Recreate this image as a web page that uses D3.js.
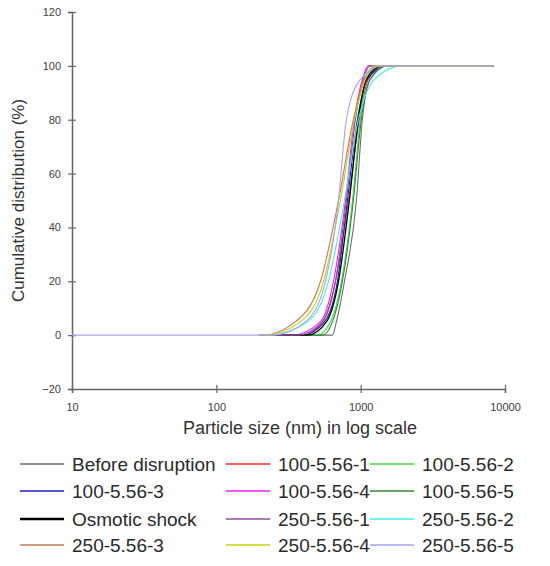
<!DOCTYPE html>
<html>
<head>
<meta charset="utf-8">
<script src="https://cdn.jsdelivr.net/npm/d3@7"></script>
<style>
  body { margin: 0; background: #fff; }
  text { font-family: Arial, "Liberation Sans", sans-serif; }
</style>
</head>
<body>
<div id="d3chart"></div>
<script>
// DATA ===========================================================================================
// particle size (nm), cumulative %
const beforeDisruption = [[200,0],[638,0],[679,5],[772,20],[934,50],[1027,80],[1166,95],[1527,100],[8300,100]]
const s100_1 = [[200,0],[396,0],[544,5],[669,20],[823,50],[979,80],[1130,95],[1411,100],[8300,100]]
const s100_2 = [[200,0],[502,0],[618,5],[736,20],[877,50],[994,80],[1094,95],[1303,100],[8300,100]]
const s100_3 = [[200,0],[396,0],[562,5],[690,20],[809,50],[949,80],[1112,95],[1527,100],[8300,100]]
const s100_4 = [[200,0],[338,0],[527,5],[648,20],[784,50],[904,80],[1027,95],[1130,100],[8300,100]]
const s100_5 = [[200,0],[544,0],[638,5],[747,20],[890,50],[1010,80],[1166,95],[1527,100],[8300,100]]
const osmoticShock = [[200,0],[429,0],[580,5],[702,20],[835,50],[964,80],[1094,95],[1411,100],[8300,100]]
const s250_1 = [[200,0],[366,0],[544,5],[669,20],[796,50],[919,80],[1043,95],[1166,100],[8300,100]]
const s250_2 = [[200,0],[227,0],[429,5],[599,20],[772,50],[964,80],[1242,95],[1939,100],[8300,100]]
const s250_3 = [[200,0],[210,0],[354,5],[527,20],[702,50],[890,80],[1060,95],[1303,100],[8300,100]]
const s250_4 = [[200,0],[216,0],[384,5],[553,20],[724,50],[904,80],[1077,95],[1242,100],[8300,100]]
const s250_5 = [[10,0],[246,0],[416,5],[570,20],[702,50],[796,80],[994,95],[1411,100],[8300,100]]

const seriesNames = ['Before disruption', '100-5.56-1', '100-5.56-2', '100-5.56-3', '100-5.56-4', '100-5.56-5',
  'Osmotic shock', '250-5.56-1', '250-5.56-2', '250-5.56-3', '250-5.56-4', '250-5.56-5']
const seriesValues = [beforeDisruption, s100_1, s100_2, s100_3, s100_4, s100_5,
  osmoticShock, s250_1, s250_2, s250_3, s250_4, s250_5]
const seriesColors = ['#6e6e6e', '#ee2a2a', '#3ee03e', '#1c1cc0', '#f020f0', '#2f8a3c',
  '#000000', '#9548a0', '#3cf0ee', '#c47a52', '#c4d400', '#a4a4f4']

const xTicks = [10, 100, 1000, 10000]
const yTicks = [-20, 0, 20, 40, 60, 80, 100, 120]

// SET UP =========================================================================================
const width = 550
const height = 566
const dimensions = {top: 12, bottom: 389, left: 72, right: 505}

const svg = d3.select('#d3chart')
  .append('svg')
  .attr('width', width)
  .attr('height', height)

// SCALES AND AXES ================================================================================
const x = d3.scaleLog()
  .domain([10, 10000])
  .range([dimensions.left, dimensions.right])

const y = d3.scaleLinear()
  .domain([-20, 120])
  .range([dimensions.bottom, dimensions.top])

const xAxis = svg.append('g')
  .attr('transform', `translate(0, ${dimensions.bottom})`)
  .call(d3.axisBottom(x).tickValues(xTicks).tickFormat(d3.format('d')).tickSize(4).tickPadding(10))

const yAxis = svg.append('g')
  .attr('transform', `translate(${dimensions.left}, 0)`)
  .call(d3.axisLeft(y).tickValues(yTicks).tickSize(4).tickPadding(7))

xAxis.selectAll('.tick line').attr('y1', -4)
yAxis.selectAll('.tick line').attr('x1', 4)

for (const ax of [xAxis, yAxis]) {
  ax.select('.domain').attr('stroke', '#666').attr('stroke-width', 1.5)
  ax.selectAll('.tick line').attr('stroke', '#666').attr('stroke-width', 1.2)
  ax.selectAll('.tick text').attr('fill', '#404040').style('font-size', '11px')
}

svg.append('text')
  .attr('transform', `translate(24, ${(dimensions.top + dimensions.bottom) / 2}) rotate(-90)`)
  .attr('text-anchor', 'middle')
  .style('font-size', '17px')
  .attr('fill', '#333')
  .text('Cumulative distribution (%)')

svg.append('text')
  .attr('x', 300)
  .attr('y', 434)
  .attr('text-anchor', 'middle')
  .style('font-size', '18px')
  .attr('fill', '#333')
  .text('Particle size (nm) in log scale')

// MARKS ==========================================================================================
const line = d3.line()
  .x(d => x(d[0]))
  .y(d => y(d[1]))
  .curve(d3.curveMonotoneX)

svg.selectAll('.series')
  .data(seriesValues)
  .join('path')
    .attr('class', 'series')
    .attr('d', line)
    .attr('fill', 'none')
    .attr('stroke', (d, i) => seriesColors[i])
    .attr('stroke-width', (d, i) => seriesNames[i] === 'Osmotic shock' ? 1.3 : 1.1)

// LEGEND =========================================================================================
const legendCols = [{line: 20, text: 72}, {line: 226, text: 278}, {line: 370, text: 422}]
const legendRows = [464, 491, 519, 545]

const legend = svg.selectAll('.legend')
  .data(seriesNames)
  .join('g')
    .attr('class', 'legend')
    .attr('transform', (d, i) => `translate(0, ${legendRows[Math.floor(i / 3)]})`)

legend.append('line')
  .attr('x1', (d, i) => legendCols[i % 3].line)
  .attr('x2', (d, i) => legendCols[i % 3].text - 8)
  .attr('stroke', (d, i) => seriesColors[i])
  .attr('stroke-width', (d, i) => d === 'Osmotic shock' ? 2.5 : 1.3)

legend.append('text')
  .attr('x', (d, i) => legendCols[i % 3].text)
  .attr('dy', '0.35em')
  .style('font-size', '19px')
  .attr('fill', '#2a2a2a')
  .text(d => d)
</script>
</body>
</html>
